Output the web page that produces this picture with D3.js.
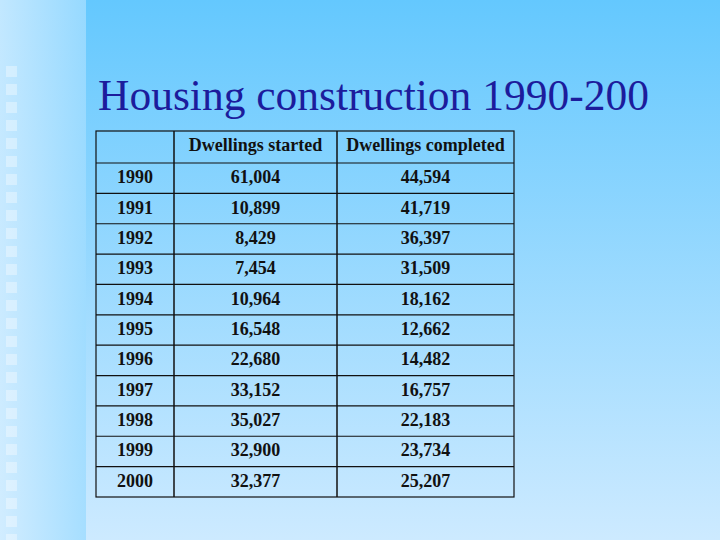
<!DOCTYPE html>
<html lang="en">
  <head>
    <meta charset="utf-8" />
    <title>Housing construction</title>
    <style>
      body { margin: 0; }
    </style>
  </head>
  <body>
    <script src="https://d3js.org/d3.v7.min.js"></script>
    <script>
      var years = ["1990", "1991", "1992", "1993", "1994", "1995", "1996", "1997", "1998", "1999", "2000"];
      var started = [61004, 10899, 8429, 7454, 10964, 16548, 22680, 33152, 35027, 32900, 32377];
      var completed = [44594, 41719, 36397, 31509, 18162, 12662, 14482, 16757, 22183, 23734, 25207];
      var headers = ["", "Dwellings started", "Dwellings completed"];

      var W = 720, H = 540;
      var svg = d3.select("body").append("svg").attr("width", W).attr("height", H);
      var defs = svg.append("defs");

      var g1 = defs.append("linearGradient").attr("id", "bg").attr("x1", 0).attr("y1", 0).attr("x2", 0).attr("y2", 1);
      g1.append("stop").attr("offset", "0%").attr("stop-color", "#64c8fe");
      g1.append("stop").attr("offset", "100%").attr("stop-color", "#cdeaff");
      var g2 = defs.append("linearGradient").attr("id", "side").attr("x1", 0).attr("y1", 0).attr("x2", 1).attr("y2", 0);
      g2.append("stop").attr("offset", "0%").attr("stop-color", "#d2edff");
      g2.append("stop").attr("offset", "100%").attr("stop-color", "#9fdcff");

      svg.append("rect").attr("width", W).attr("height", H).attr("fill", "url(#bg)");
      svg.append("rect").attr("width", 86).attr("height", H).attr("fill", "url(#side)").attr("opacity", 0.85);

      // decorative squares down the left strip
      var sq = d3.range(66, 535, 18);
      svg.selectAll(".sq").data(sq).enter().append("rect")
        .attr("x", 6).attr("y", function (d) { return d; })
        .attr("width", 11).attr("height", 11)
        .attr("fill", "#ffffff").attr("opacity", 0.35);

      svg.append("text").attr("x", 98).attr("y", 110)
        .style("font-family", "Liberation Serif, Times New Roman, serif")
        .style("font-size", "43.5px").attr("fill", "#1c1c9c")
        .text("Housing construction 1990-200");

      // table
      var colEdges = [96, 174, 337, 514];
      var tTop = 131, headH = 32, tBottom = 497;
      var y = d3.scaleBand().domain(years).range([tTop + headH, tBottom]);

      var t = svg.append("g")
        .style("font-family", "Liberation Serif, Times New Roman, serif")
        .style("font-weight", "bold").attr("fill", "#111");

      t.append("rect").attr("x", colEdges[0]).attr("y", tTop)
        .attr("width", colEdges[3] - colEdges[0]).attr("height", tBottom - tTop)
        .attr("fill", "none").attr("stroke", "#111").attr("stroke-width", 1.2);
      colEdges.slice(1, 3).forEach(function (c) {
        t.append("line").attr("x1", c).attr("x2", c).attr("y1", tTop).attr("y2", tBottom)
          .attr("stroke", "#111").attr("stroke-width", 1.5);
      });
      t.selectAll(".hl").data(years).enter().append("line")
        .attr("x1", colEdges[0]).attr("x2", colEdges[3])
        .attr("y1", function (d) { return y(d); }).attr("y2", function (d) { return y(d); })
        .attr("stroke", "#111").attr("stroke-width", 1.2);

      function cx(i) { return (colEdges[i] + colEdges[i + 1]) / 2; }
      var fmt = d3.format(",");

      headers.forEach(function (h, i) {
        t.append("text").attr("x", cx(i)).attr("y", tTop + headH / 2 + 4)
          .attr("text-anchor", "middle").style("font-size", "18px").text(h);
      });
      var rows = years.map(function (yr, i) { return [yr, fmt(started[i]), fmt(completed[i])]; });
      rows.forEach(function (r) {
        r.forEach(function (v, i) {
          t.append("text").attr("x", cx(i)).attr("y", y(r[0]) + y.bandwidth() / 2 + 5)
            .attr("text-anchor", "middle").style("font-size", "18px").text(v);
        });
      });
    </script>
  </body>
</html>
